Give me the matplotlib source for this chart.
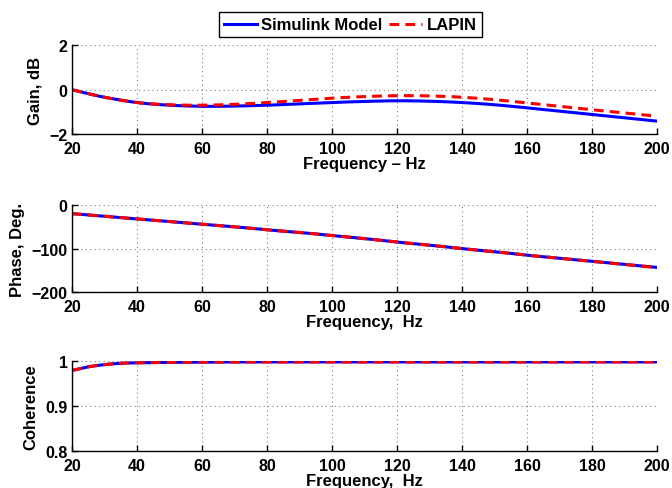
import numpy as np
import matplotlib
matplotlib.use('Agg')
import matplotlib.pyplot as plt

plt.rcParams['font.family'] = ['Liberation Sans', 'DejaVu Sans']
plt.rcParams['font.weight'] = 'bold'

freq = [20, 25, 30, 35, 40, 50, 60, 70, 80, 90, 100, 110, 120, 130, 140, 150, 160, 170, 180, 190, 200]

gain_sim = [0.0, -0.18, -0.34, -0.47, -0.58, -0.70, -0.75, -0.74, -0.70, -0.64, -0.58, -0.53, -0.50, -0.52, -0.58, -0.68, -0.82, -0.97, -1.12, -1.27, -1.42]
gain_lapin = [0.0, -0.18, -0.34, -0.47, -0.58, -0.68, -0.70, -0.66, -0.58, -0.48, -0.38, -0.31, -0.27, -0.28, -0.34, -0.45, -0.60, -0.75, -0.91, -1.05, -1.20]

phase_sim = [-20, -23, -26, -29, -32, -38, -44, -50, -57, -63, -70, -77, -85, -92, -100, -107, -115, -122, -129, -136, -143]
phase_lapin = [-20, -23, -26, -29, -32, -38, -44, -50, -57, -63, -70, -77, -85, -92, -100, -107, -115, -122, -129, -136, -143.5]

coh_sim = [0.980, 0.988, 0.993, 0.996, 0.997, 0.998, 0.9985, 0.999, 0.999, 0.999, 0.999, 0.999, 0.999, 0.999, 0.999, 0.999, 0.999, 0.999, 0.999, 0.999, 0.999]
coh_lapin = [0.980, 0.988, 0.993, 0.996, 0.997, 0.998, 0.9985, 0.999, 0.999, 0.999, 0.999, 0.999, 0.999, 0.999, 0.999, 0.999, 0.999, 0.999, 0.999, 0.999, 0.999]

xticks = [20, 40, 60, 80, 100, 120, 140, 160, 180, 200]


def smooth(x, y, n=400):
    # piecewise cubic Hermite through the read-off points
    x = np.asarray(x, float)
    y = np.asarray(y, float)
    xs = np.linspace(x[0], x[-1], n)
    m = np.gradient(y, x)
    out = np.empty_like(xs)
    for k, xv in enumerate(xs):
        i = min(np.searchsorted(x, xv, side='right') - 1, len(x) - 2)
        h = x[i + 1] - x[i]
        t = (xv - x[i]) / h
        h00 = 2 * t**3 - 3 * t**2 + 1
        h10 = t**3 - 2 * t**2 + t
        h01 = -2 * t**3 + 3 * t**2
        h11 = t**3 - t**2
        out[k] = h00 * y[i] + h10 * h * m[i] + h01 * y[i + 1] + h11 * h * m[i + 1]
    return xs, out


fig = plt.figure(figsize=(6.72, 4.89), dpi=100)
left, width = 0.107, 0.871
ax1 = fig.add_axes([left, 0.724, width, 0.181])
ax2 = fig.add_axes([left, 0.400, width, 0.179])
ax3 = fig.add_axes([left, 0.0757, width, 0.183])

panels = [
    (ax1, gain_sim, gain_lapin, (-2, 2), [-2, 0, 2], 'Gain, dB', 'Frequency \u2013 Hz'),
    (ax2, phase_sim, phase_lapin, (-200, 0), [-200, -100, 0], 'Phase, Deg.', 'Frequency,  Hz'),
    (ax3, coh_sim, coh_lapin, (0.8, 1.0), [0.8, 0.9, 1.0], 'Coherence', 'Frequency,  Hz'),
]

for ax, ys, yl, ylim, yt, ylab, xlab in panels:
    xs, s1 = smooth(freq, ys)
    _, s2 = smooth(freq, yl)
    l1, = ax.plot(xs, s1, color='#0000ff', lw=2.2, label='Simulink Model')
    l2, = ax.plot(xs, s2, color='#ff0000', lw=2.2, ls=(0, (3.2, 2)), label='LAPIN')
    ax.set_xlim(20, 200)
    ax.set_ylim(*ylim)
    ax.set_xticks(xticks)
    ax.set_yticks(yt)
    if ax is ax3:
        ax.set_yticklabels(['0.8', '0.9', '1'])
    ax.grid(True, color='#808080', ls=(0, (1, 3)), lw=0.8)
    ax.set_axisbelow(True)
    ax.spines['top'].set_visible(False)
    ax.spines['right'].set_visible(False)
    for sp in ('left', 'bottom'):
        ax.spines[sp].set_linewidth(1.0)
    ax.tick_params(axis='x', direction='in', length=4, width=1.0, labelsize=11.5, pad=5)
    ax.tick_params(axis='y', direction='in', length=4, width=1.0, labelsize=11.5, pad=3)
    for lab in ax.get_xticklabels() + ax.get_yticklabels():
        lab.set_fontweight('bold')
    ax.set_xlabel(xlab, fontsize=12, fontweight='bold', labelpad=0)
    ax.set_ylabel(ylab, fontsize=12, fontweight='bold', labelpad=5)

fig.legend([l1, l2], ['Simulink Model', 'LAPIN'], loc='center',
           bbox_to_anchor=(0.521, 0.947), ncol=2, frameon=True, fancybox=False,
           edgecolor='black', framealpha=1, prop={'weight': 'bold', 'size': 12},
           handlelength=2.0, columnspacing=0.4, handletextpad=0.25,
           borderpad=0.3, borderaxespad=0.2)

fig.savefig('out.png', dpi=100, facecolor='white')
